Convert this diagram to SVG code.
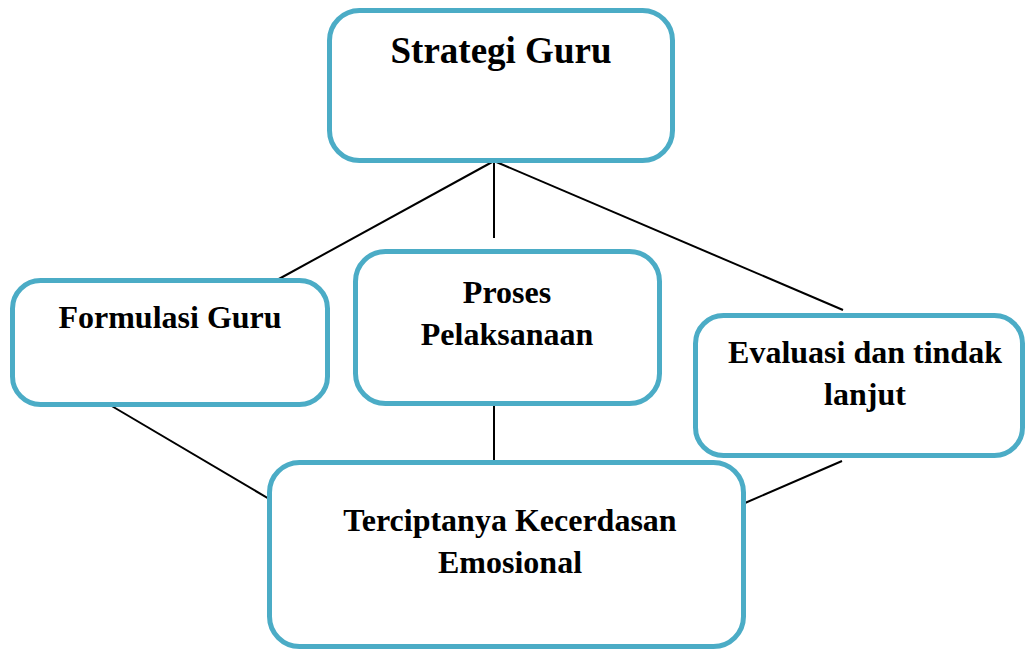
<svg xmlns="http://www.w3.org/2000/svg" width="1028" height="651" viewBox="0 0 1028 651">
<style>
.box{fill:#ffffff;stroke:#4BACC6;stroke-width:5}
.lbl{font-family:"Liberation Serif","Times New Roman",serif;font-weight:bold;font-size:32px;fill:#000000;text-anchor:middle}
.big{font-size:37px}
.conn line{stroke:#000000;stroke-width:2}
</style>
<rect width="1028" height="651" fill="#ffffff"/>
<g id="connectors" class="conn">
<line x1="494" y1="161" x2="277" y2="280"/>
<line x1="494" y1="161" x2="494" y2="238"/>
<line x1="494" y1="161" x2="843" y2="310"/>
<line x1="110" y1="405" x2="276" y2="503"/>
<line x1="494" y1="405" x2="494" y2="462"/>
<line x1="842" y1="461" x2="745" y2="503"/>
</g>
<g id="strategi-guru">
<rect class="box" x="329.5" y="10.5" width="343" height="150" rx="30"/>
<text class="lbl big" x="501" y="63">Strategi Guru</text>
</g>
<g id="formulasi-guru">
<rect class="box" x="12.5" y="280.5" width="315" height="124" rx="28"/>
<text class="lbl" x="170" y="328">Formulasi Guru</text>
</g>
<g id="proses-pelaksanaan">
<rect class="box" x="355.5" y="251.5" width="304" height="152" rx="30"/>
<text class="lbl" x="507" y="303">Proses</text>
<text class="lbl" x="507" y="345">Pelaksanaan</text>
</g>
<g id="evaluasi">
<rect class="box" x="695.5" y="315.5" width="327" height="140" rx="28"/>
<text class="lbl" x="865" y="363">Evaluasi dan tindak</text>
<text class="lbl" x="865" y="405">lanjut</text>
</g>
<g id="kecerdasan-emosional">
<rect class="box" x="269.5" y="462.5" width="474" height="184" rx="30"/>
<text class="lbl" x="510" y="531">Terciptanya Kecerdasan</text>
<text class="lbl" x="510" y="573">Emosional</text>
</g>
</svg>
